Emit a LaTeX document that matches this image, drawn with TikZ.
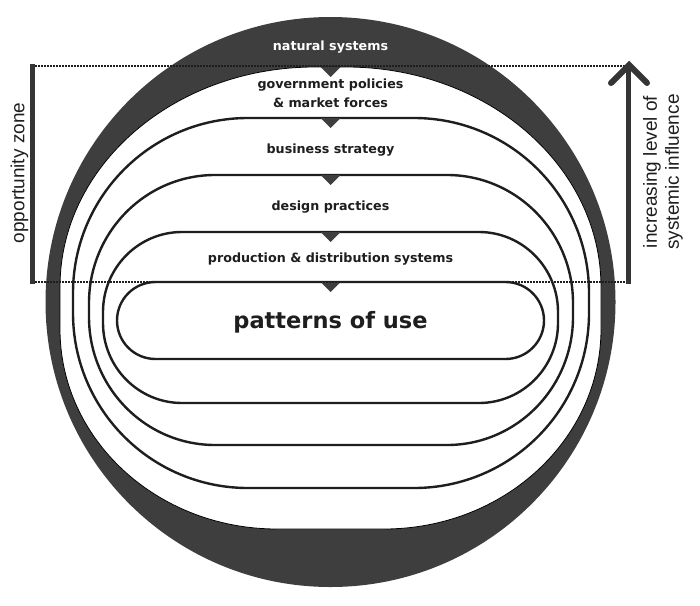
\documentclass[tikz,border=0pt]{standalone}
\usepackage{fontspec}
\setmainfont{DejaVu Sans}
\newfontfamily\sidefont{Liberation Sans}
\definecolor{ringgray}{HTML}{3E3E3E}
\definecolor{inkdark}{HTML}{1E1E1E}
% L, R, T, B, top rx, top ry, bottom rx, bottom ry
\newcommand\layershapeb[8]{%
  ({#1+#5},{-#3}) -- ({#2-#5},{-#3})
  arc[start angle=90,end angle=0,x radius=#5,y radius=#6]
  -- ({#2},{-(#4-#8)})
  arc[start angle=0,end angle=-90,x radius=#7,y radius=#8]
  -- ({#1+#7},{-#4})
  arc[start angle=270,end angle=180,x radius=#7,y radius=#8]
  -- ({#1},{-(#3+#6)})
  arc[start angle=180,end angle=90,x radius=#5,y radius=#6]
  -- cycle}
\newcommand\layershape[6]{\layershapeb{#1}{#2}{#3}{#4}{#5}{#6}{#5}{#6}}
\newcommand\marker[1]{%
  \fill[ringgray] (320.5,{-#1}) -- (340.5,{-#1}) -- (330.5,{-(#1+10)}) -- cycle;}
\tikzset{
  layerline/.style={draw=inkdark,line width=2.4pt,fill=white},
  lab/.style={inner sep=0pt,anchor=base,text=inkdark,font=\fontsize{12.7}{15}\selectfont\bfseries},
  bigl/.style={inner sep=0pt,anchor=base,text=inkdark,font=\fontsize{22.5}{26}\selectfont\bfseries},
  sidelab/.style={inner sep=0pt,anchor=center,text=inkdark,rotate=90,align=center,
    font=\sidefont\fontsize{19}{22}\selectfont},
  zoneline/.style={draw=inkdark,line width=2.2pt,dash pattern=on 1.6pt off 1.4pt},
  bar/.style={draw=inkdark!90,line width=5pt},
}
\begin{document}
\begin{tikzpicture}[x=1pt,y=1pt]
\useasboundingbox (0,0) rectangle (700,-605);
% outer ring
\fill[ringgray] (330.5,-302) circle[radius=285];
% government layer (white interior)
\path[draw=black,line width=0.8pt,fill=white] \layershapeb{60}{601}{67}{529}{255}{220}{217}{200};
% inner layers
\path[layerline] \layershape{73}{589}{118}{488}{175}{175};
\path[layerline] \layershape{89}{573}{175}{445}{126}{128};
\path[layerline] \layershape{103}{558}{232}{403}{79}{80};
\path[layerline] \layershape{117}{544}{282}{359}{38.5}{38.5};
% markers
\marker{67}
\marker{118}
\marker{175}
\marker{232}
\marker{282}
% labels
\node[lab,text=white] (nat) at (330.5,-50) {natural systems};
\node[lab] (gov1) at (330.5,-88) {government policies};
\node[lab] (gov2) at (330.5,-107) {\& market forces};
\node[lab] (bus) at (330.5,-153) {business strategy};
\node[lab] (des) at (330.5,-210) {design practices};
\node[lab] (prod) at (330.5,-262.7) {production \& distribution systems};
\node[bigl] (pat) at (330.5,-328) {patterns of use};
% zone lines
\coordinate (zl1) at (35,-66);
\coordinate (zr1) at (628,-66);
\coordinate (zl2) at (35,-282);
\coordinate (zr2) at (628,-282);
\draw[zoneline] (zl1) -- (zr1);
\draw[zoneline] (zl2) -- (zr2);
% opportunity bar
\coordinate (ob1) at (32.5,-64);
\coordinate (ob2) at (32.5,-284);
\draw[bar] (ob1) -- (ob2);
\node[sidelab] (opp) at (19.5,-173) {opportunity zone};
% influence arrow
\coordinate (ab) at (628.5,-284);
\coordinate (at) at (628.5,-67);
\coordinate (tip) at (629,-65);
\coordinate (armL) at (611,-83);
\coordinate (armR) at (647,-83);
\draw[bar] (ab) -- (at);
\draw[bar,line width=6pt,line cap=round,line join=miter] (armL) -- (tip) -- (armR);
\node[sidelab] (inf) at (663,-172) {increasing level of\\systemic influence};
\end{tikzpicture}
\end{document}
